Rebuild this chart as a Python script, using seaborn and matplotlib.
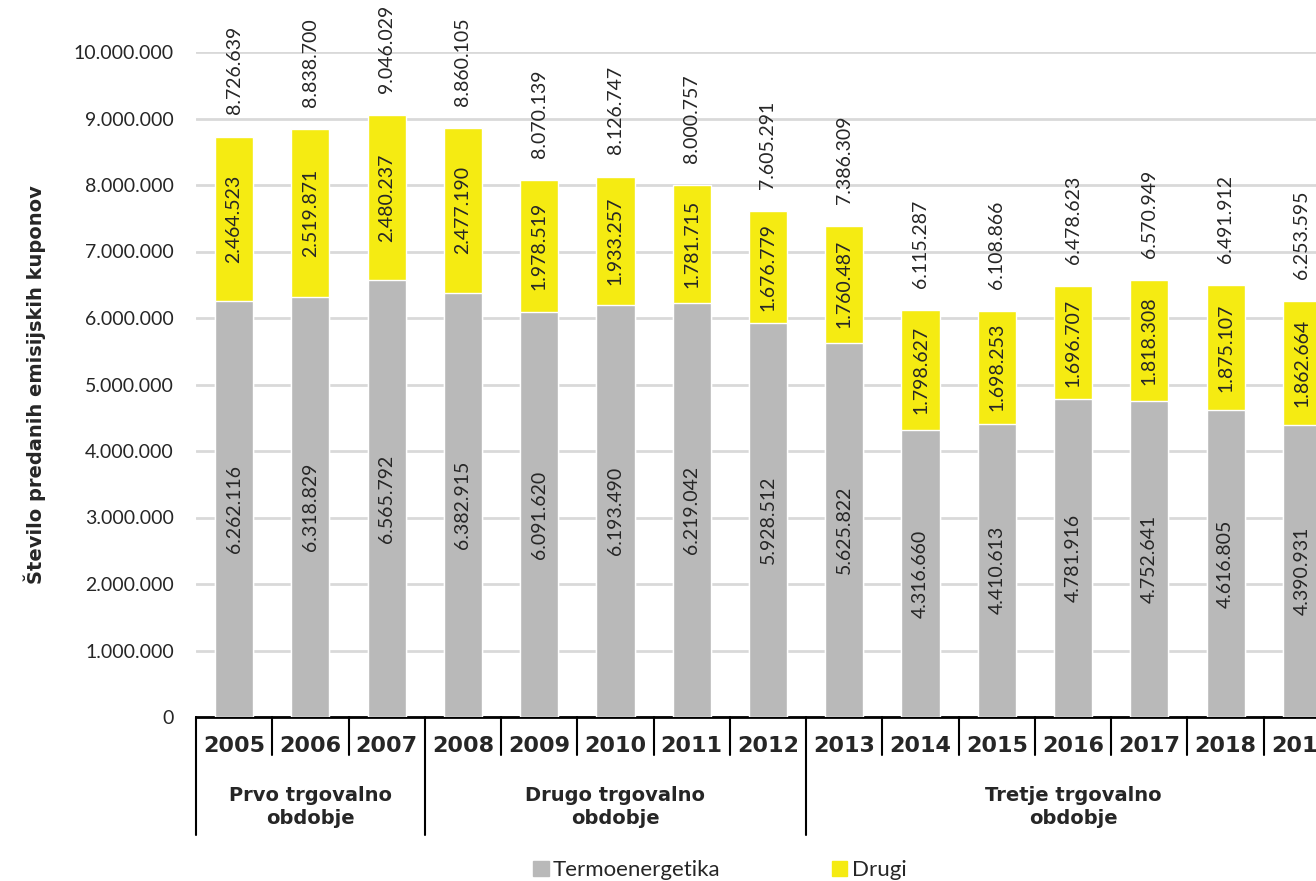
import matplotlib
matplotlib.use("Agg")
import matplotlib.pyplot as plt
import matplotlib.transforms as mtrans
from matplotlib.patches import Patch
import pandas as pd
import seaborn as sns

# data
years = ["2005", "2006", "2007", "2008", "2009", "2010", "2011", "2012",
         "2013", "2014", "2015", "2016", "2017", "2018", "2019"]
termo = [6262116, 6318829, 6565792, 6382915, 6091620, 6193490, 6219042, 5928512,
         5625822, 4316660, 4410613, 4781916, 4752641, 4616805, 4390931]
drugi = [2464523, 2519871, 2480237, 2477190, 1978519, 1933257, 1781715, 1676779,
         1760487, 1798627, 1698253, 1696707, 1818308, 1875107, 1862664]
totals = [8726639, 8838700, 9046029, 8860105, 8070139, 8126747, 8000757, 7605291,
          7386309, 6115287, 6108866, 6478623, 6570949, 6491912, 6253595]
periods = ["Prvo trgovalno\nobdobje", "Drugo trgovalno\nobdobje", "Tretje trgovalno\nobdobje"]
period_len = [3, 5, 7]

GREY = "#b9b9b9"
YELLOW = "#f5eb12"
BOLD = ["DejaVu Sans"]

sns.set_style("white")
plt.rcParams["font.family"] = ["Lato", "DejaVu Sans"]

df = pd.DataFrame({"year": years, "termo": termo, "drugi": drugi, "total": totals})

def fmt(v):
    return f"{v:,}".replace(",", ".")

fig = plt.figure(figsize=(13.16, 8.81), dpi=100)
# axes runs past the right edge, like the original (2019 is clipped)
ax = fig.add_axes([196 / 1316, 164 / 881, 1144 / 1316, 665 / 881])

sns.barplot(data=df, x="year", y="total", color=YELLOW, width=0.5, saturation=1, ax=ax, zorder=2)
sns.barplot(data=df, x="year", y="termo", color=GREY, width=0.5, saturation=1, ax=ax, zorder=3)

ax.set_ylim(0, 10000000)
ax.set_xlim(-0.5, len(years) - 0.5)
ax.set_yticks(range(0, 10000001, 1000000))
ax.set_yticklabels([fmt(v) for v in range(0, 10000001, 1000000)], fontsize=14)
ax.yaxis.grid(True, color="#d9d9d9", linewidth=2)
ax.set_axisbelow(True)
ax.tick_params(axis="y", length=0, pad=16)
ax.tick_params(axis="x", length=0, labelbottom=False)
ax.set_xlabel("")
ax.set_ylabel("Število predanih emisijskih kuponov", fontsize=14, fontweight="bold",
              family=BOLD, labelpad=20)
for s in ["top", "right", "left"]:
    ax.spines[s].set_visible(False)
ax.spines["bottom"].set_color("black")
ax.spines["bottom"].set_linewidth(2)

for i in range(len(years)):
    ax.text(i, termo[i] / 2, fmt(termo[i]), rotation=90, ha="center", va="center", fontsize=14, zorder=5)
    ax.text(i, termo[i] + drugi[i] / 2, fmt(drugi[i]), rotation=90, ha="center", va="center", fontsize=14, zorder=5)
    ax.annotate(fmt(totals[i]), (i, totals[i]), xytext=(0, 16), textcoords="offset points",
                rotation=90, ha="center", va="bottom", fontsize=14, annotation_clip=False)

# category axis: years, separators, trading periods
trans = mtrans.blended_transform_factory(ax.transData, ax.transAxes)
for i, y in enumerate(years):
    ax.text(i, -0.044, y, transform=trans, ha="center", va="center", fontsize=16,
            fontweight="bold", family=BOLD)
starts = [0]
for n in period_len:
    starts.append(starts[-1] + n)
for b in range(len(years) + 1):
    low = -0.178 if b in starts else -0.057
    ax.plot([b - 0.5, b - 0.5], [0, low], transform=trans, color="black", lw=1.5, clip_on=False)
for p, n, s in zip(periods, period_len, starts):
    ax.text(s - 0.5 + n / 2, -0.135, p, transform=trans, ha="center", va="center",
            fontsize=14, fontweight="bold", family=BOLD, linespacing=1.3)

handles = [Patch(color=GREY, label="Termoenergetika"), Patch(color=YELLOW, label="Drugi")]
fig.legend(handles=handles, loc="lower center", bbox_to_anchor=(0.547, -0.022), ncol=2, frameon=False,
           fontsize=16, handlelength=0.7, handleheight=0.7, handletextpad=0.2, columnspacing=5.0)

fig.savefig("out.png", dpi=100)
